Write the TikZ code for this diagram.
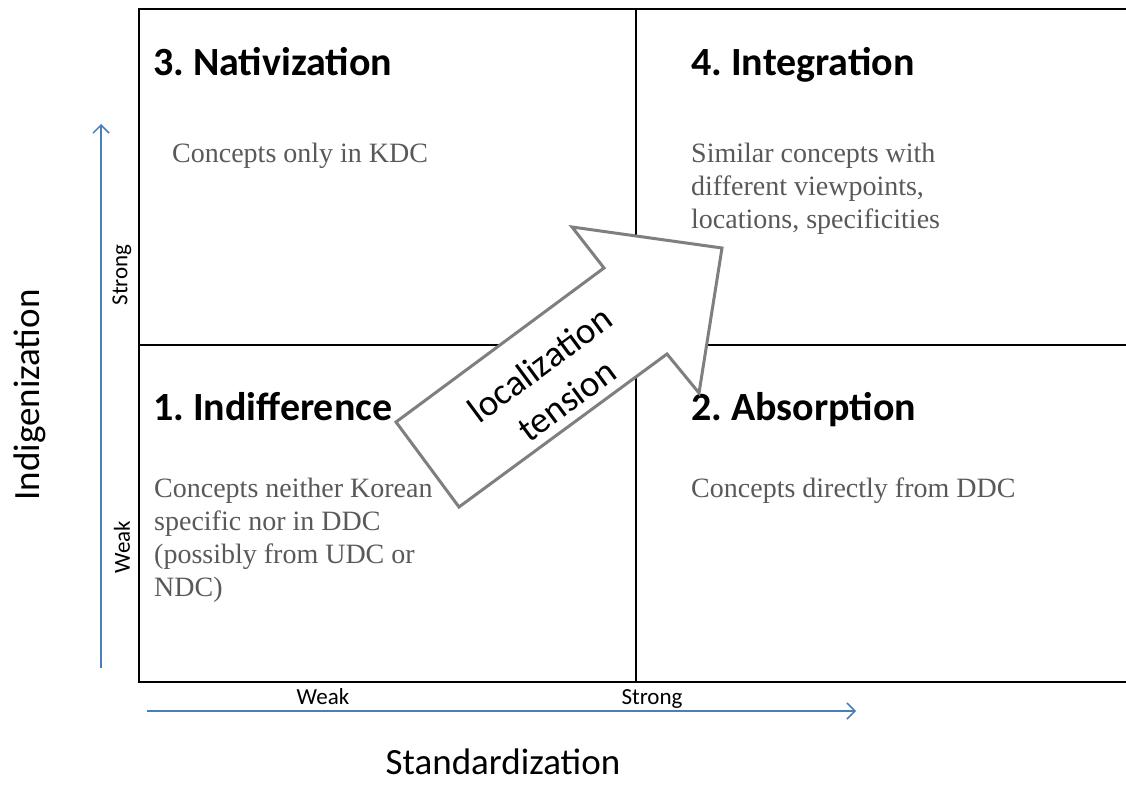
\documentclass[tikz,border=0pt]{standalone}
\usepackage{fontspec}
\setmainfont{Liberation Serif}
\newfontfamily\calibri{Carlito}
\usetikzlibrary{arrows.meta, positioning}
\definecolor{axisblue}{RGB}{74, 126, 187}
\definecolor{descgray}{RGB}{89, 89, 89}
\definecolor{arrowgray}{RGB}{127, 127, 127}
\frenchspacing
\tikzset{
  quadtitle/.style={anchor=base west, inner sep=0pt, font=\calibri\bfseries\fontsize{40}{48}\selectfont},
  quaddesc/.style={anchor=north west, inner sep=0pt, align=left, text=descgray, font=\fontsize{28}{33}\selectfont},
  ticklab/.style={inner sep=0pt, font=\calibri\fontsize{23}{28}\selectfont},
  axislab/.style={inner sep=0pt, font=\calibri\fontsize{37}{44}\selectfont},
  axisarrow/.style={axisblue, line width=1.5pt, -{Straight Barb[length=8pt, width=16pt]}}
}

\begin{document}
\begin{tikzpicture}[x=1pt, y=-1pt]
  \useasboundingbox (0,0) rectangle (1126,784);

  % Quadrant grid
  \draw[line width=2pt] (1130,9) -- (139,9) -- (139,682) -- (1130,682);
  \draw[line width=2pt] (636,9) -- (636,682);
  \draw[line width=2pt] (139,345) -- (1130,345);

  % Quadrant titles
  \node[quadtitle] (nat) at (153,75) {3. Nativization};
  \node[quadtitle] (integ) at (691,75) {4. Integration};
  \node[quadtitle] (indiff) at (153,420) {1. Indifference};
  \node[quadtitle] (absorb) at (691,420) {2. Absorption};

  % Quadrant descriptions
  \node[quaddesc] (natdesc) at (172,143) {Concepts only in KDC};
  \node[quaddesc] (integdesc) at (691,143) {Similar concepts with\\different viewpoints,\\locations, specificities};
  \node[quaddesc] (indiffdesc) at (154,478) {Concepts neither Korean\\specific nor in DDC\\(possibly from UDC or\\NDC)};
  \node[quaddesc] (absorbdesc) at (691,478) {Concepts directly from DDC};

  % Block arrow
  \draw[arrowgray, line width=3pt, fill=white, line join=miter]
    (396,422) -- (459,507) -- (667,354) -- (699,393) -- (722,248) -- (572,227) -- (604,268) -- cycle;
  \node[rotate=36.5, align=center, inner sep=0pt, font=\calibri\fontsize{37}{45}\selectfont] (tension) at (553,382) {localization\\tension};

  % Axes
  \coordinate (vstart) at (101,668);
  \coordinate (vend) at (101,124);
  \coordinate (hstart) at (147,711);
  \coordinate (hend) at (856,711);
  \draw[axisarrow] (vstart) -- (vend);
  \draw[axisarrow] (hstart) -- (hend);

  \node[ticklab, rotate=90] (vstrong) at (122,275) {Strong};
  \node[ticklab, rotate=90] (vweak) at (122,547) {Weak};
  \node[ticklab, anchor=base] (hweak) at (323,704) {Weak};
  \node[ticklab, anchor=base] (hstrong) at (652,704) {Strong};

  \node[axislab, rotate=90] (indig) at (30,395) {Indigenization};
  \node[axislab, anchor=base] (stand) at (503,774) {Standardization};
\end{tikzpicture}
\end{document}
